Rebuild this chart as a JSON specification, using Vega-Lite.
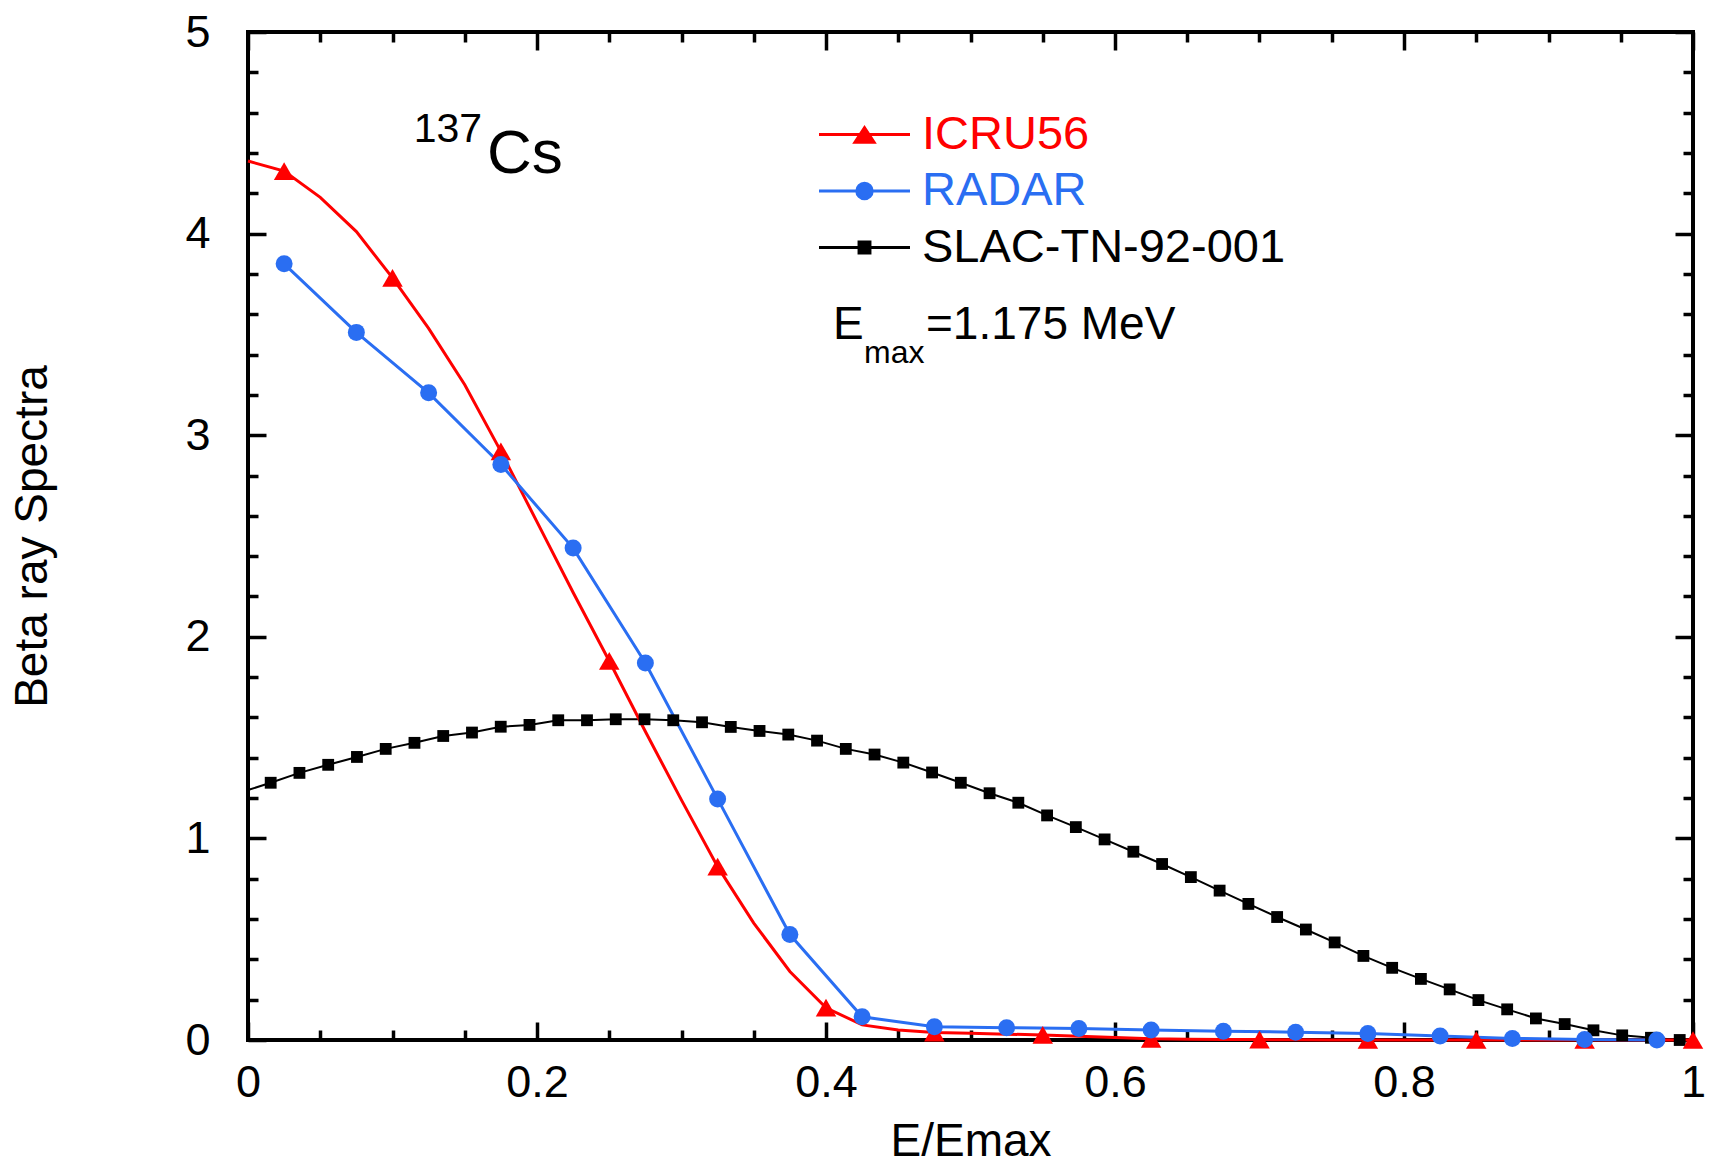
{
  "$schema": "https://vega.github.io/schema/vega-lite/v6.json",
  "width": 1445,
  "height": 1008,
  "autosize": {"type": "none"},
  "padding": {"left": 248, "top": 32, "right": 16, "bottom": 127},
  "background": "white",
  "config": {
    "view": {"stroke": "black", "strokeWidth": 4},
    "font": "Liberation Sans",
    "axis": {
      "grid": false, "domain": false, "tickColor": "black", "tickWidth": 3.5,
      "labelFont": "Liberation Sans", "labelFontSize": 45, "labelColor": "black",
      "titleFont": "Liberation Sans", "titleFontSize": 46, "titleFontWeight": "normal", "titleColor": "black",
      "labelFlush": false, "labelOverlap": false
    }
  },
  "datasets": {
    "lines": [
      {"series": "SLAC-TN-92-001", "x": 0.0, "y": 1.24},
      {"series": "SLAC-TN-92-001", "x": 0.0157, "y": 1.276},
      {"series": "SLAC-TN-92-001", "x": 0.0356, "y": 1.325},
      {"series": "SLAC-TN-92-001", "x": 0.0555, "y": 1.365},
      {"series": "SLAC-TN-92-001", "x": 0.0754, "y": 1.404},
      {"series": "SLAC-TN-92-001", "x": 0.0953, "y": 1.444},
      {"series": "SLAC-TN-92-001", "x": 0.1152, "y": 1.474},
      {"series": "SLAC-TN-92-001", "x": 0.1351, "y": 1.508},
      {"series": "SLAC-TN-92-001", "x": 0.155, "y": 1.525},
      {"series": "SLAC-TN-92-001", "x": 0.1749, "y": 1.554},
      {"series": "SLAC-TN-92-001", "x": 0.1948, "y": 1.563},
      {"series": "SLAC-TN-92-001", "x": 0.2147, "y": 1.586},
      {"series": "SLAC-TN-92-001", "x": 0.2346, "y": 1.586},
      {"series": "SLAC-TN-92-001", "x": 0.2545, "y": 1.591},
      {"series": "SLAC-TN-92-001", "x": 0.2744, "y": 1.591},
      {"series": "SLAC-TN-92-001", "x": 0.2943, "y": 1.586},
      {"series": "SLAC-TN-92-001", "x": 0.3142, "y": 1.576},
      {"series": "SLAC-TN-92-001", "x": 0.3341, "y": 1.553},
      {"series": "SLAC-TN-92-001", "x": 0.354, "y": 1.533},
      {"series": "SLAC-TN-92-001", "x": 0.3739, "y": 1.515},
      {"series": "SLAC-TN-92-001", "x": 0.3938, "y": 1.485},
      {"series": "SLAC-TN-92-001", "x": 0.4137, "y": 1.444},
      {"series": "SLAC-TN-92-001", "x": 0.4336, "y": 1.416},
      {"series": "SLAC-TN-92-001", "x": 0.4535, "y": 1.376},
      {"series": "SLAC-TN-92-001", "x": 0.4734, "y": 1.327},
      {"series": "SLAC-TN-92-001", "x": 0.4933, "y": 1.276},
      {"series": "SLAC-TN-92-001", "x": 0.5132, "y": 1.224},
      {"series": "SLAC-TN-92-001", "x": 0.5331, "y": 1.177},
      {"series": "SLAC-TN-92-001", "x": 0.553, "y": 1.114},
      {"series": "SLAC-TN-92-001", "x": 0.5729, "y": 1.056},
      {"series": "SLAC-TN-92-001", "x": 0.5928, "y": 0.995},
      {"series": "SLAC-TN-92-001", "x": 0.6127, "y": 0.934},
      {"series": "SLAC-TN-92-001", "x": 0.6326, "y": 0.873},
      {"series": "SLAC-TN-92-001", "x": 0.6525, "y": 0.808},
      {"series": "SLAC-TN-92-001", "x": 0.6724, "y": 0.741},
      {"series": "SLAC-TN-92-001", "x": 0.6923, "y": 0.675},
      {"series": "SLAC-TN-92-001", "x": 0.7122, "y": 0.61},
      {"series": "SLAC-TN-92-001", "x": 0.7321, "y": 0.548},
      {"series": "SLAC-TN-92-001", "x": 0.752, "y": 0.484},
      {"series": "SLAC-TN-92-001", "x": 0.7719, "y": 0.417},
      {"series": "SLAC-TN-92-001", "x": 0.7918, "y": 0.358},
      {"series": "SLAC-TN-92-001", "x": 0.8117, "y": 0.303},
      {"series": "SLAC-TN-92-001", "x": 0.8316, "y": 0.251},
      {"series": "SLAC-TN-92-001", "x": 0.8515, "y": 0.198},
      {"series": "SLAC-TN-92-001", "x": 0.8714, "y": 0.152},
      {"series": "SLAC-TN-92-001", "x": 0.8913, "y": 0.107},
      {"series": "SLAC-TN-92-001", "x": 0.9112, "y": 0.079},
      {"series": "SLAC-TN-92-001", "x": 0.9311, "y": 0.048},
      {"series": "SLAC-TN-92-001", "x": 0.951, "y": 0.023},
      {"series": "SLAC-TN-92-001", "x": 0.9709, "y": 0.011},
      {"series": "SLAC-TN-92-001", "x": 0.9908, "y": 0.0},
      {"series": "ICRU56", "x": 0.0, "y": 4.36},
      {"series": "ICRU56", "x": 0.025, "y": 4.31},
      {"series": "ICRU56", "x": 0.05, "y": 4.18},
      {"series": "ICRU56", "x": 0.075, "y": 4.01},
      {"series": "ICRU56", "x": 0.1, "y": 3.78},
      {"series": "ICRU56", "x": 0.125, "y": 3.53},
      {"series": "ICRU56", "x": 0.15, "y": 3.25},
      {"series": "ICRU56", "x": 0.175, "y": 2.92},
      {"series": "ICRU56", "x": 0.2, "y": 2.57},
      {"series": "ICRU56", "x": 0.225, "y": 2.22},
      {"series": "ICRU56", "x": 0.25, "y": 1.88},
      {"series": "ICRU56", "x": 0.275, "y": 1.53},
      {"series": "ICRU56", "x": 0.3, "y": 1.19},
      {"series": "ICRU56", "x": 0.325, "y": 0.86},
      {"series": "ICRU56", "x": 0.35, "y": 0.58},
      {"series": "ICRU56", "x": 0.375, "y": 0.34},
      {"series": "ICRU56", "x": 0.4, "y": 0.16},
      {"series": "ICRU56", "x": 0.425, "y": 0.075},
      {"series": "ICRU56", "x": 0.45, "y": 0.05},
      {"series": "ICRU56", "x": 0.475, "y": 0.037},
      {"series": "ICRU56", "x": 0.5, "y": 0.033},
      {"series": "ICRU56", "x": 0.525, "y": 0.029},
      {"series": "ICRU56", "x": 0.55, "y": 0.025},
      {"series": "ICRU56", "x": 0.575, "y": 0.018},
      {"series": "ICRU56", "x": 0.6, "y": 0.012},
      {"series": "ICRU56", "x": 0.625, "y": 0.006},
      {"series": "ICRU56", "x": 0.65, "y": 0.004},
      {"series": "ICRU56", "x": 0.675, "y": 0.003},
      {"series": "ICRU56", "x": 0.7, "y": 0.002},
      {"series": "ICRU56", "x": 0.725, "y": 0.001},
      {"series": "ICRU56", "x": 0.75, "y": 0.0},
      {"series": "ICRU56", "x": 0.775, "y": 0.0},
      {"series": "ICRU56", "x": 0.8, "y": 0.0},
      {"series": "ICRU56", "x": 0.825, "y": 0.0},
      {"series": "ICRU56", "x": 0.85, "y": 0.0},
      {"series": "ICRU56", "x": 0.875, "y": 0.0},
      {"series": "ICRU56", "x": 0.9, "y": 0.0},
      {"series": "ICRU56", "x": 0.925, "y": 0.0},
      {"series": "ICRU56", "x": 0.95, "y": 0.0},
      {"series": "ICRU56", "x": 0.975, "y": 0.0},
      {"series": "ICRU56", "x": 1.0, "y": 0.0},
      {"series": "RADAR", "x": 0.025, "y": 3.85},
      {"series": "RADAR", "x": 0.075, "y": 3.51},
      {"series": "RADAR", "x": 0.125, "y": 3.21},
      {"series": "RADAR", "x": 0.175, "y": 2.855},
      {"series": "RADAR", "x": 0.225, "y": 2.44},
      {"series": "RADAR", "x": 0.275, "y": 1.87},
      {"series": "RADAR", "x": 0.325, "y": 1.196},
      {"series": "RADAR", "x": 0.375, "y": 0.523},
      {"series": "RADAR", "x": 0.425, "y": 0.115},
      {"series": "RADAR", "x": 0.475, "y": 0.066},
      {"series": "RADAR", "x": 0.525, "y": 0.061},
      {"series": "RADAR", "x": 0.575, "y": 0.057},
      {"series": "RADAR", "x": 0.625, "y": 0.05},
      {"series": "RADAR", "x": 0.675, "y": 0.043},
      {"series": "RADAR", "x": 0.725, "y": 0.039},
      {"series": "RADAR", "x": 0.775, "y": 0.032},
      {"series": "RADAR", "x": 0.825, "y": 0.02},
      {"series": "RADAR", "x": 0.875, "y": 0.008},
      {"series": "RADAR", "x": 0.925, "y": 0.002},
      {"series": "RADAR", "x": 0.975, "y": 0.0}
    ],
    "markers": [
      {"series": "SLAC-TN-92-001", "x": 0.0157, "y": 1.276},
      {"series": "SLAC-TN-92-001", "x": 0.0356, "y": 1.325},
      {"series": "SLAC-TN-92-001", "x": 0.0555, "y": 1.365},
      {"series": "SLAC-TN-92-001", "x": 0.0754, "y": 1.404},
      {"series": "SLAC-TN-92-001", "x": 0.0953, "y": 1.444},
      {"series": "SLAC-TN-92-001", "x": 0.1152, "y": 1.474},
      {"series": "SLAC-TN-92-001", "x": 0.1351, "y": 1.508},
      {"series": "SLAC-TN-92-001", "x": 0.155, "y": 1.525},
      {"series": "SLAC-TN-92-001", "x": 0.1749, "y": 1.554},
      {"series": "SLAC-TN-92-001", "x": 0.1948, "y": 1.563},
      {"series": "SLAC-TN-92-001", "x": 0.2147, "y": 1.586},
      {"series": "SLAC-TN-92-001", "x": 0.2346, "y": 1.586},
      {"series": "SLAC-TN-92-001", "x": 0.2545, "y": 1.591},
      {"series": "SLAC-TN-92-001", "x": 0.2744, "y": 1.591},
      {"series": "SLAC-TN-92-001", "x": 0.2943, "y": 1.586},
      {"series": "SLAC-TN-92-001", "x": 0.3142, "y": 1.576},
      {"series": "SLAC-TN-92-001", "x": 0.3341, "y": 1.553},
      {"series": "SLAC-TN-92-001", "x": 0.354, "y": 1.533},
      {"series": "SLAC-TN-92-001", "x": 0.3739, "y": 1.515},
      {"series": "SLAC-TN-92-001", "x": 0.3938, "y": 1.485},
      {"series": "SLAC-TN-92-001", "x": 0.4137, "y": 1.444},
      {"series": "SLAC-TN-92-001", "x": 0.4336, "y": 1.416},
      {"series": "SLAC-TN-92-001", "x": 0.4535, "y": 1.376},
      {"series": "SLAC-TN-92-001", "x": 0.4734, "y": 1.327},
      {"series": "SLAC-TN-92-001", "x": 0.4933, "y": 1.276},
      {"series": "SLAC-TN-92-001", "x": 0.5132, "y": 1.224},
      {"series": "SLAC-TN-92-001", "x": 0.5331, "y": 1.177},
      {"series": "SLAC-TN-92-001", "x": 0.553, "y": 1.114},
      {"series": "SLAC-TN-92-001", "x": 0.5729, "y": 1.056},
      {"series": "SLAC-TN-92-001", "x": 0.5928, "y": 0.995},
      {"series": "SLAC-TN-92-001", "x": 0.6127, "y": 0.934},
      {"series": "SLAC-TN-92-001", "x": 0.6326, "y": 0.873},
      {"series": "SLAC-TN-92-001", "x": 0.6525, "y": 0.808},
      {"series": "SLAC-TN-92-001", "x": 0.6724, "y": 0.741},
      {"series": "SLAC-TN-92-001", "x": 0.6923, "y": 0.675},
      {"series": "SLAC-TN-92-001", "x": 0.7122, "y": 0.61},
      {"series": "SLAC-TN-92-001", "x": 0.7321, "y": 0.548},
      {"series": "SLAC-TN-92-001", "x": 0.752, "y": 0.484},
      {"series": "SLAC-TN-92-001", "x": 0.7719, "y": 0.417},
      {"series": "SLAC-TN-92-001", "x": 0.7918, "y": 0.358},
      {"series": "SLAC-TN-92-001", "x": 0.8117, "y": 0.303},
      {"series": "SLAC-TN-92-001", "x": 0.8316, "y": 0.251},
      {"series": "SLAC-TN-92-001", "x": 0.8515, "y": 0.198},
      {"series": "SLAC-TN-92-001", "x": 0.8714, "y": 0.152},
      {"series": "SLAC-TN-92-001", "x": 0.8913, "y": 0.107},
      {"series": "SLAC-TN-92-001", "x": 0.9112, "y": 0.079},
      {"series": "SLAC-TN-92-001", "x": 0.9311, "y": 0.048},
      {"series": "SLAC-TN-92-001", "x": 0.951, "y": 0.023},
      {"series": "SLAC-TN-92-001", "x": 0.9709, "y": 0.011},
      {"series": "SLAC-TN-92-001", "x": 0.9908, "y": 0.0},
      {"series": "ICRU56", "x": 0.025, "y": 4.31},
      {"series": "ICRU56", "x": 0.1, "y": 3.78},
      {"series": "ICRU56", "x": 0.175, "y": 2.92},
      {"series": "ICRU56", "x": 0.25, "y": 1.88},
      {"series": "ICRU56", "x": 0.325, "y": 0.86},
      {"series": "ICRU56", "x": 0.4, "y": 0.16},
      {"series": "ICRU56", "x": 0.475, "y": 0.037},
      {"series": "ICRU56", "x": 0.55, "y": 0.025},
      {"series": "ICRU56", "x": 0.625, "y": 0.006},
      {"series": "ICRU56", "x": 0.7, "y": 0.002},
      {"series": "ICRU56", "x": 0.775, "y": 0.0},
      {"series": "ICRU56", "x": 0.85, "y": 0.0},
      {"series": "ICRU56", "x": 0.925, "y": 0.0},
      {"series": "ICRU56", "x": 1.0, "y": 0.0},
      {"series": "RADAR", "x": 0.025, "y": 3.85},
      {"series": "RADAR", "x": 0.075, "y": 3.51},
      {"series": "RADAR", "x": 0.125, "y": 3.21},
      {"series": "RADAR", "x": 0.175, "y": 2.855},
      {"series": "RADAR", "x": 0.225, "y": 2.44},
      {"series": "RADAR", "x": 0.275, "y": 1.87},
      {"series": "RADAR", "x": 0.325, "y": 1.196},
      {"series": "RADAR", "x": 0.375, "y": 0.523},
      {"series": "RADAR", "x": 0.425, "y": 0.115},
      {"series": "RADAR", "x": 0.475, "y": 0.066},
      {"series": "RADAR", "x": 0.525, "y": 0.061},
      {"series": "RADAR", "x": 0.575, "y": 0.057},
      {"series": "RADAR", "x": 0.625, "y": 0.05},
      {"series": "RADAR", "x": 0.675, "y": 0.043},
      {"series": "RADAR", "x": 0.725, "y": 0.039},
      {"series": "RADAR", "x": 0.775, "y": 0.032},
      {"series": "RADAR", "x": 0.825, "y": 0.02},
      {"series": "RADAR", "x": 0.875, "y": 0.008},
      {"series": "RADAR", "x": 0.925, "y": 0.002},
      {"series": "RADAR", "x": 0.975, "y": 0.0}
    ]
  },
  "layer": [
    {
      "data": {"name": "lines"},
      "transform": [{"filter": "datum.series === 'SLAC-TN-92-001'"}],
      "mark": {"type": "line", "color": "#000000", "strokeWidth": 2},
      "encoding": {
        "x": {"field": "x", "type": "quantitative", "scale": {"domain": [0, 1], "nice": false, "zero": false},
              "axis": {"orient": "bottom", "values": [0, 0.2, 0.4, 0.6, 0.8, 1], "tickSize": -18, "labelPadding": 38, "format": "~g", "title": "E/Emax", "titlePadding": 14}},
        "y": {"field": "y", "type": "quantitative", "scale": {"domain": [0, 5], "nice": false, "zero": false},
              "axis": {"orient": "left", "values": [0, 1, 2, 3, 4, 5], "tickSize": -18, "labelPadding": 56, "format": "d", "title": "Beta ray Spectra", "titlePadding": 128}}
      }
    },
    {
      "data": {"name": "lines"},
      "transform": [{"filter": "datum.series === 'ICRU56'"}],
      "mark": {"type": "line", "color": "#ff0000", "strokeWidth": 3},
      "encoding": {
        "x": {"field": "x", "type": "quantitative", "axis": null},
        "y": {"field": "y", "type": "quantitative", "axis": null}
      }
    },
    {
      "data": {"name": "lines"},
      "transform": [{"filter": "datum.series === 'RADAR'"}],
      "mark": {"type": "line", "color": "#2a6ef2", "strokeWidth": 3},
      "encoding": {
        "x": {"field": "x", "type": "quantitative", "axis": null},
        "y": {"field": "y", "type": "quantitative", "axis": null}
      }
    },
    {
      "data": {"name": "markers"},
      "transform": [{"filter": "datum.series === 'SLAC-TN-92-001'"}],
      "mark": {"type": "point", "shape": "square", "filled": true, "color": "#000000", "size": 140, "opacity": 1, "strokeWidth": 0},
      "encoding": {
        "x": {"field": "x", "type": "quantitative",
              "axis": {"orient": "bottom", "values": [0.05, 0.1, 0.15, 0.25, 0.3, 0.35, 0.45, 0.5, 0.55, 0.65, 0.7, 0.75, 0.85, 0.9, 0.95], "tickSize": -10, "labels": false, "title": null}},
        "y": {"field": "y", "type": "quantitative",
              "axis": {"orient": "left", "values": [0.2, 0.4, 0.6, 0.8, 1.2, 1.4, 1.6, 1.8, 2.2, 2.4, 2.6, 2.8, 3.2, 3.4, 3.6, 3.8, 4.2, 4.4, 4.6, 4.8], "tickSize": -10, "labels": false, "title": null}}
      }
    },
    {
      "data": {"name": "markers"},
      "transform": [{"filter": "datum.series === 'ICRU56'"}],
      "mark": {"type": "point", "shape": "triangle-up", "filled": true, "color": "#ff0000", "size": 420, "opacity": 1, "strokeWidth": 0},
      "encoding": {
        "x": {"field": "x", "type": "quantitative",
              "axis": {"orient": "top", "values": [0, 0.2, 0.4, 0.6, 0.8, 1], "tickSize": -18, "labels": false, "title": null}},
        "y": {"field": "y", "type": "quantitative",
              "axis": {"orient": "right", "values": [0, 1, 2, 3, 4, 5], "tickSize": -18, "labels": false, "title": null}}
      }
    },
    {
      "data": {"name": "markers"},
      "transform": [{"filter": "datum.series === 'RADAR'"}],
      "mark": {"type": "point", "shape": "circle", "filled": true, "color": "#2a6ef2", "size": 289, "opacity": 1, "strokeWidth": 0},
      "encoding": {
        "x": {"field": "x", "type": "quantitative",
              "axis": {"orient": "top", "values": [0.05, 0.1, 0.15, 0.25, 0.3, 0.35, 0.45, 0.5, 0.55, 0.65, 0.7, 0.75, 0.85, 0.9, 0.95], "tickSize": -10, "labels": false, "title": null}},
        "y": {"field": "y", "type": "quantitative",
              "axis": {"orient": "right", "values": [0.2, 0.4, 0.6, 0.8, 1.2, 1.4, 1.6, 1.8, 2.2, 2.4, 2.6, 2.8, 3.2, 3.4, 3.6, 3.8, 4.2, 4.4, 4.6, 4.8], "tickSize": -10, "labels": false, "title": null}}
      }
    },
    {
      "data": {"name": "markers"},
      "mark": {"type": "point", "filled": true, "opacity": 0, "strokeWidth": 3},
      "encoding": {
        "fill": {"field": "series", "type": "nominal",
                 "scale": {"domain": ["ICRU56", "RADAR", "SLAC-TN-92-001"], "range": ["#ff0000", "#2a6ef2", "#000000"]},
                 "legend": {"orient": "none", "legendX": 592, "legendY": 78, "title": null, "symbolSize": 2116, "symbolStrokeWidth": 3, "symbolOpacity": 1, "labelFontSize": 47, "labelFont": "Liberation Sans", "labelOffset": 33, "rowPadding": 8.5, "padding": 0, "labelLimit": 0,
                            "labelColor": {"expr": "datum.value === 'ICRU56' ? '#ff0000' : datum.value === 'RADAR' ? '#2a6ef2' : '#000000'"}}},
        "stroke": {"field": "series", "type": "nominal",
                   "scale": {"domain": ["ICRU56", "RADAR", "SLAC-TN-92-001"], "range": ["#ff0000", "#2a6ef2", "#000000"]},
                   "legend": {"orient": "none", "legendX": 592, "legendY": 78, "title": null, "symbolSize": 2116, "symbolStrokeWidth": 3, "symbolOpacity": 1, "labelFontSize": 47, "labelFont": "Liberation Sans", "labelOffset": 33, "rowPadding": 8.5, "padding": 0, "labelLimit": 0,
                              "labelColor": {"expr": "datum.value === 'ICRU56' ? '#ff0000' : datum.value === 'RADAR' ? '#2a6ef2' : '#000000'"}}},
        "shape": {"field": "series", "type": "nominal",
                  "scale": {"domain": ["ICRU56", "RADAR", "SLAC-TN-92-001"],
                            "range": ["M-1.978,0H1.978M-0.415,0.336L0,-0.297L0.415,0.336Z", "M-1.978,0H1.978M0.336,0A0.336,0.336,0,1,1,-0.336,0A0.336,0.336,0,1,1,0.336,0Z", "M-1.978,0H1.978M-0.237,-0.237H0.237V0.237H-0.237Z"]},
                  "legend": {"orient": "none", "legendX": 592, "legendY": 78, "title": null, "symbolSize": 2116, "symbolStrokeWidth": 3, "symbolOpacity": 1, "labelFontSize": 47, "labelFont": "Liberation Sans", "labelOffset": 33, "rowPadding": 8.5, "padding": 0, "labelLimit": 0,
                             "labelColor": {"expr": "datum.value === 'ICRU56' ? '#ff0000' : datum.value === 'RADAR' ? '#2a6ef2' : '#000000'"}}}
      }
    },
    {
      "data": {"values": [{"t": "137"}]},
      "mark": {"type": "text", "align": "left", "baseline": "alphabetic", "fontSize": 41, "font": "Liberation Sans", "color": "#000000"},
      "encoding": {
        "x": {"datum": 0.1147, "type": "quantitative", "axis": null},
        "y": {"datum": 4.456, "type": "quantitative", "axis": null},
        "text": {"field": "t"}
      }
    },
    {
      "data": {"values": [{"t": "Cs"}]},
      "mark": {"type": "text", "align": "left", "baseline": "alphabetic", "fontSize": 62, "font": "Liberation Sans", "color": "#000000"},
      "encoding": {
        "x": {"datum": 0.1654, "type": "quantitative", "axis": null},
        "y": {"datum": 4.303, "type": "quantitative", "axis": null},
        "text": {"field": "t"}
      }
    },
    {
      "data": {"values": [{"t": "E"}]},
      "mark": {"type": "text", "align": "left", "baseline": "alphabetic", "fontSize": 46, "font": "Liberation Sans", "color": "#000000"},
      "encoding": {
        "x": {"datum": 0.4048, "type": "quantitative", "axis": null},
        "y": {"datum": 3.477, "type": "quantitative", "axis": null},
        "text": {"field": "t"}
      }
    },
    {
      "data": {"values": [{"t": "max"}]},
      "mark": {"type": "text", "align": "left", "baseline": "alphabetic", "fontSize": 32, "font": "Liberation Sans", "color": "#000000"},
      "encoding": {
        "x": {"datum": 0.4263, "type": "quantitative", "axis": null},
        "y": {"datum": 3.358, "type": "quantitative", "axis": null},
        "text": {"field": "t"}
      }
    },
    {
      "data": {"values": [{"t": "=1.175 MeV"}]},
      "mark": {"type": "text", "align": "left", "baseline": "alphabetic", "fontSize": 46, "font": "Liberation Sans", "color": "#000000"},
      "encoding": {
        "x": {"datum": 0.4692, "type": "quantitative", "axis": null},
        "y": {"datum": 3.477, "type": "quantitative", "axis": null},
        "text": {"field": "t"}
      }
    }
  ],
  "resolve": {"axis": {"x": "independent", "y": "independent"}}
}
